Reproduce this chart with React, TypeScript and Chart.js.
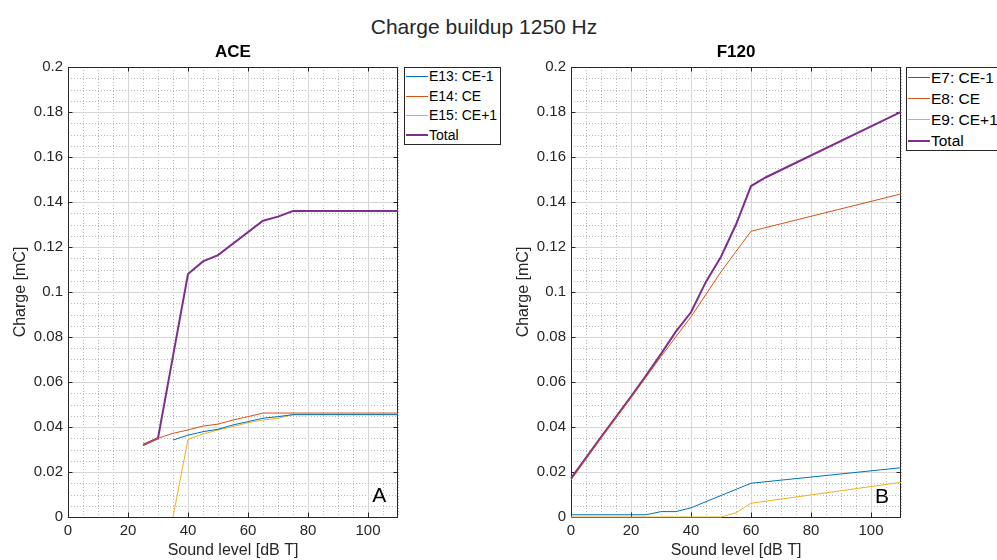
import React, { useEffect, useRef } from 'react';
import { Chart, registerables } from 'chart.js';

Chart.register(...registerables);

// ---------- data ----------
const xTickValues = [0, 20, 40, 60, 80, 100];
const yTickValues = [0, 0.02, 0.04, 0.06, 0.08, 0.1, 0.12, 0.14, 0.16, 0.18, 0.2];

// ACE (panel A)
const aceE13X = [35, 40, 45, 50, 55, 60, 65, 70, 75, 110];
const aceE13Y = [0.0342, 0.0364, 0.0379, 0.039, 0.0409, 0.0424, 0.0439, 0.0446, 0.0455, 0.0455];
const aceE14X = [25, 30, 35, 40, 45, 50, 55, 60, 65, 110];
const aceE14Y = [0.032, 0.035, 0.0372, 0.0387, 0.0404, 0.0413, 0.0431, 0.0446, 0.0462, 0.0462];
const aceE15X = [35, 40, 45, 50, 55, 60, 65, 70, 75, 110];
const aceE15Y = [0, 0.0345, 0.0369, 0.0387, 0.0402, 0.0419, 0.0431, 0.0439, 0.0455, 0.0455];
const aceTotalX = [25, 30, 35, 40, 45, 50, 65, 70, 75, 110];
const aceTotalY = [0.032, 0.035, 0.0715, 0.108, 0.1136, 0.1164, 0.1317, 0.1335, 0.136, 0.136];

// F120 (panel B)
const f120E7X = [0, 25, 30, 35, 40, 60, 110];
const f120E7Y = [0.001, 0.001, 0.0024, 0.0024, 0.0041, 0.015, 0.0219];
const f120E8X = [0, 10, 20, 30, 40, 50, 60, 110];
const f120E8Y = [0.0164, 0.035, 0.053, 0.0713, 0.089, 0.109, 0.127, 0.1436];
const f120E9X = [0, 50, 55, 60, 110];
const f120E9Y = [0, 0, 0.0019, 0.0061, 0.0154];
const f120TotalX = [0, 10, 20, 25, 30, 35, 40, 45, 50, 55, 60, 65, 110];
const f120TotalY = [0.0172, 0.0355, 0.0535, 0.0628, 0.0725, 0.0825, 0.091, 0.1046, 0.1157, 0.13, 0.1471, 0.151, 0.1801];

const aceLabels = ['E13: CE-1', 'E14: CE', 'E15: CE+1', 'Total'];
const f120Labels = ['E7: CE-1', 'E8: CE', 'E9: CE+1', 'Total'];

// ---------- styles ----------
const FONT = '"Liberation Sans", Arial, Helvetica, sans-serif';
const COLORS = ['#0072BD', '#D95319', '#EDB120', '#7E2F8E'];
const WIDTHS = [1, 1, 1, 2];
const AXIS_COLOR = '#262626';

const zip = (xs: number[], ys: number[]) => xs.map((x, i) => ({ x, y: ys[i] }));

const matlabAxesPlugin = {
  id: 'matlabAxes',
  beforeDatasetsDraw(chart: any) {
    const { ctx, chartArea, scales } = chart;
    const { left, right, top, bottom } = chartArea;
    const xs = scales.x;
    const ys = scales.y;
    ctx.save();
    ctx.lineWidth = 1;
    // minor grid (dotted)
    ctx.strokeStyle = '#b8b8b8';
    ctx.setLineDash([1, 2]);
    ctx.beginPath();
    for (let i = 0; i <= 22; i++) {
      const v = i * 5;
      if (v % 20 === 0) continue;
      const px = Math.round(xs.getPixelForValue(v)) + 0.5;
      ctx.moveTo(px, top);
      ctx.lineTo(px, bottom);
    }
    for (let i = 0; i <= 40; i++) {
      if (i % 4 === 0) continue;
      const py = Math.round(ys.getPixelForValue(i * 0.005)) + 0.5;
      ctx.moveTo(left, py);
      ctx.lineTo(right, py);
    }
    ctx.stroke();
    // major grid (solid, light)
    ctx.setLineDash([]);
    ctx.strokeStyle = '#d6d6d6';
    ctx.beginPath();
    xTickValues.forEach((v) => {
      const px = Math.round(xs.getPixelForValue(v)) + 0.5;
      ctx.moveTo(px, top);
      ctx.lineTo(px, bottom);
    });
    yTickValues.forEach((v) => {
      const py = Math.round(ys.getPixelForValue(v)) + 0.5;
      ctx.moveTo(left, py);
      ctx.lineTo(right, py);
    });
    ctx.stroke();
    // box
    ctx.strokeStyle = AXIS_COLOR;
    ctx.strokeRect(left + 0.5, top + 0.5, right - left - 1, bottom - top);
    // inward ticks
    const tl = 4.5;
    ctx.beginPath();
    xTickValues.forEach((v) => {
      const px = Math.round(xs.getPixelForValue(v)) + 0.5;
      ctx.moveTo(px, bottom);
      ctx.lineTo(px, bottom - tl);
      ctx.moveTo(px, top);
      ctx.lineTo(px, top + tl);
    });
    yTickValues.forEach((v) => {
      const py = Math.round(ys.getPixelForValue(v)) + 0.5;
      ctx.moveTo(left, py);
      ctx.lineTo(left + tl, py);
      ctx.moveTo(right, py);
      ctx.lineTo(right - tl, py);
    });
    ctx.stroke();
    ctx.restore();
  },
};

type Series = { x: number[]; y: number[] }[];

const CANVAS_W = 402;
const CANVAS_H = 566;

function Panel({ left, title, series, labels }: { left: number; title: string; series: Series; labels: string[] }) {
  const ref = useRef<HTMLCanvasElement | null>(null);
  useEffect(() => {
    if (!ref.current) return;
    const chart = new Chart(ref.current, {
      type: 'line',
      data: {
        datasets: series.map((s, i) => ({
          label: labels[i],
          data: zip(s.x, s.y),
          borderColor: COLORS[i],
          backgroundColor: COLORS[i],
          borderWidth: WIDTHS[i],
          pointRadius: 0,
          tension: 0,
          fill: false,
          clip: 3,
        })),
      },
      options: {
        animation: false,
        responsive: false,
        events: [],
        layout: { padding: { left: 0, right: 4, top: 0, bottom: 0 } },
        plugins: {
          legend: { display: false },
          tooltip: { enabled: false },
          title: {
            display: true,
            text: title,
            fullSize: false,
            color: '#000',
            font: { family: FONT, size: 17, weight: 'bold' },
            padding: { top: 41.8, bottom: 4.8 },
          },
        },
        scales: {
          x: {
            type: 'linear',
            min: 0,
            max: 110,
            afterBuildTicks: (s: any) => {
              s.ticks = xTickValues.map((value) => ({ value }));
            },
            afterFit: (s: any) => {
              s.height = CANVAS_H - 517;
            },
            grid: { display: false, drawTicks: false },
            border: { display: false },
            ticks: {
              autoSkip: false,
              maxRotation: 0,
              padding: 5,
              color: AXIS_COLOR,
              font: { family: FONT, size: 15 },
              callback: (v: any) => String(v),
            },
            title: {
              display: true,
              text: 'Sound level [dB T]',
              color: AXIS_COLOR,
              font: { family: FONT, size: 16 },
              padding: { top: 0, bottom: 6 },
            },
          },
          y: {
            type: 'linear',
            min: 0,
            max: 0.2,
            afterBuildTicks: (s: any) => {
              s.ticks = yTickValues.map((value) => ({ value }));
            },
            afterFit: (s: any) => {
              s.width = 68;
            },
            grid: { display: false, drawTicks: false },
            border: { display: false },
            ticks: {
              autoSkip: false,
              padding: 5,
              color: AXIS_COLOR,
              font: { family: FONT, size: 15 },
              callback: (v: any) => String(Number(Number(v).toFixed(3))),
            },
            title: {
              display: true,
              text: 'Charge [mC]',
              color: AXIS_COLOR,
              font: { family: FONT, size: 16 },
              padding: { top: 11, bottom: 0 },
            },
          },
        },
      },
      plugins: [matlabAxesPlugin],
    } as any);
    return () => chart.destroy();
  }, []);
  return (
    <canvas
      ref={ref}
      width={CANVAS_W}
      height={CANVAS_H}
      style={{ position: 'absolute', left, top: 0, width: CANVAS_W, height: CANVAS_H }}
    />
  );
}

function Legend({
  left,
  top,
  width,
  height,
  rowHeight,
  fontSize,
  labels,
}: {
  left: number;
  top: number;
  width: number;
  height: number;
  rowHeight: number;
  fontSize: number;
  labels: string[];
}) {
  return (
    <div
      style={{
        position: 'absolute',
        left,
        top,
        width,
        height,
        boxSizing: 'border-box',
        border: '1px solid ' + AXIS_COLOR,
        background: '#fff',
        fontFamily: FONT,
        fontSize,
        color: '#000',
      }}
    >
      {labels.map((lab, i) => {
        const rowTop = i * rowHeight - 1;
        const center = rowTop + rowHeight / 2;
        return (
          <React.Fragment key={i}>
            <div
              style={{
                position: 'absolute',
                left: 1,
                width: 22,
                top: center - WIDTHS[i] / 2,
                height: WIDTHS[i],
                background: COLORS[i],
              }}
            />
            <div
              style={{
                position: 'absolute',
                left: 24,
                top: rowTop,
                height: rowHeight,
                lineHeight: rowHeight + 'px',
                whiteSpace: 'nowrap',
              }}
            >
              {lab}
            </div>
          </React.Fragment>
        );
      })}
    </div>
  );
}

export default function App() {
  const aceSeries = [
    { x: aceE13X, y: aceE13Y },
    { x: aceE14X, y: aceE14Y },
    { x: aceE15X, y: aceE15Y },
    { x: aceTotalX, y: aceTotalY },
  ];
  const f120Series = [
    { x: f120E7X, y: f120E7Y },
    { x: f120E8X, y: f120E8Y },
    { x: f120E9X, y: f120E9Y },
    { x: f120TotalX, y: f120TotalY },
  ];
  return (
    <div
      style={{
        position: 'fixed',
        left: 0,
        top: 0,
        width: 997,
        height: 560,
        overflow: 'hidden',
        background: '#fff',
      }}
    >
      <div
        style={{
          position: 'absolute',
          left: 284,
          top: 15.5,
          width: 400,
          textAlign: 'center',
          fontFamily: FONT,
          fontSize: 21,
          lineHeight: '21px',
          color: AXIS_COLOR,
          whiteSpace: 'nowrap',
        }}
      >
        Charge buildup 1250 Hz
      </div>
      <Panel left={0} title="ACE" series={aceSeries} labels={aceLabels} />
      <Panel left={503} title="F120" series={f120Series} labels={f120Labels} />
      <Legend left={404} top={67} width={97} height={78} rowHeight={19.5} fontSize={14} labels={aceLabels} />
      <Legend left={906} top={67} width={110} height={84} rowHeight={21} fontSize={15.5} labels={f120Labels} />
      <div
        style={{
          position: 'absolute',
          left: 372.3,
          top: 484,
          fontFamily: FONT,
          fontSize: 21,
          lineHeight: '21px',
          color: '#000',
        }}
      >
        A
      </div>
      <div
        style={{
          position: 'absolute',
          left: 875,
          top: 484.5,
          fontFamily: FONT,
          fontSize: 21,
          lineHeight: '21px',
          color: '#000',
        }}
      >
        B
      </div>
    </div>
  );
}
